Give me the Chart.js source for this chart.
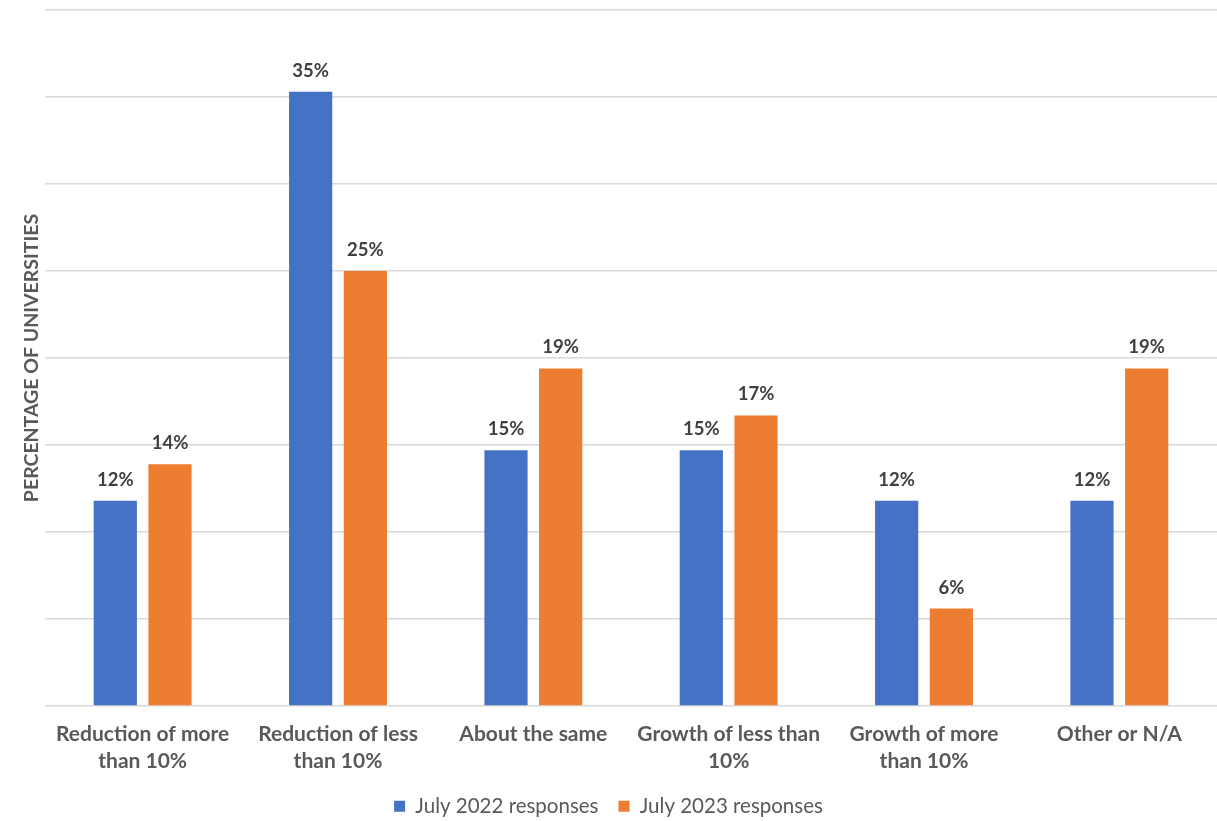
<!DOCTYPE html>
<html>
<head>
<meta charset="utf-8">
<script src="https://cdn.jsdelivr.net/npm/chart.js@4/dist/chart.umd.min.js"></script>
<style>
  html, body { margin: 0; padding: 0; background: #fff; }
  #wrap { width: 1217px; height: 821px; }
</style>
</head>
<body>
<div id="wrap"><canvas id="barchart"></canvas></div>
<script>
const categories = [
  ["Reduction of more", "than 10%"],
  ["Reduction of less", "than 10%"],
  "About the same",
  ["Growth of less than", "10%"],
  ["Growth of more", "than 10%"],
  "Other or N/A",
];
const july2022 = [11.8, 35.3, 14.7, 14.7, 11.8, 11.8];
const july2023 = [13.9, 25.0, 19.4, 16.7, 5.6, 19.4];
const seriesNames = ["July 2022 responses", "July 2023 responses"];

// draw "12%" style labels above each bar
const barLabels = {
  id: "barLabels",
  afterDatasetsDraw(chart) {
    const c = chart.ctx;
    c.save();
    c.font = "bold 18.5px Lato";
    c.fillStyle = "#404040";
    c.textAlign = "center";
    c.textBaseline = "alphabetic";
    chart.data.datasets.forEach((ds, i) => {
      chart.getDatasetMeta(i).data.forEach((bar, j) => {
        c.fillText(Math.round(ds.data[j]) + "%", bar.x, bar.y - 15);
      });
    });
    c.restore();
  },
};

const ctx = document.getElementById("barchart");
new Chart(ctx, {
  type: "bar",
  data: {
    labels: categories,
    datasets: [
      {
        label: seriesNames[0],
        data: july2022,
        backgroundColor: "#4472C4",
        categoryPercentage: 0.56,
        barPercentage: 0.79,
      },
      {
        label: seriesNames[1],
        data: july2023,
        backgroundColor: "#ED7D31",
        categoryPercentage: 0.56,
        barPercentage: 0.79,
      },
    ],
  },
  plugins: [barLabels],
  options: {
    responsive: true,
    maintainAspectRatio: false,
    animation: false,
    layout: { padding: { top: 10, right: 0, left: 0, bottom: 0 } },
    plugins: {
      legend: {
        position: "bottom",
        maxHeight: 45,
        labels: {
          color: "#595959",
          font: { family: "Lato", size: 20.5 },
          boxWidth: 11,
          boxHeight: 11,
          padding: 20,
        },
      },
      tooltip: { enabled: false },
    },
    scales: {
      x: {
        grid: { display: false },
        border: { display: false },
        ticks: {
          color: "#595959",
          font: { family: "Lato", size: 21, weight: "bold", lineHeight: 1.28 },
          padding: 7,
          maxRotation: 0,
          autoSkip: false,
        },
        afterFit(scale) {
          scale.height = 70;
        },
      },
      y: {
        min: 0,
        max: 40,
        ticks: { display: false, stepSize: 5 },
        grid: { color: "#d9d9d9", lineWidth: 1.5, drawTicks: false },
        border: { display: false },
        title: {
          display: true,
          text: "PERCENTAGE OF UNIVERSITIES",
          color: "#595959",
          font: { family: "Lato", size: 19.5, weight: "bold" },
          padding: { top: 20, bottom: 0 },
        },
        afterFit(scale) {
          scale.width = 45;
        },
      },
    },
  },
});
</script>
</body>
</html>
